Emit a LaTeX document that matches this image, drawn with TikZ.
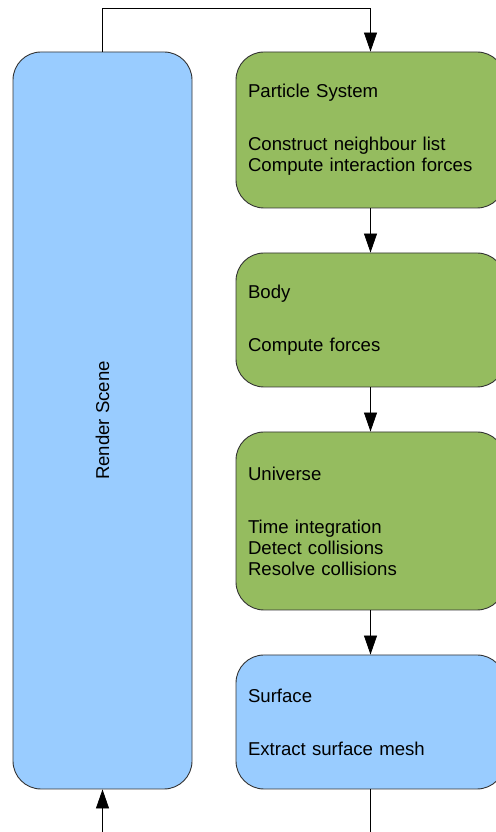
\documentclass[tikz,border=0pt]{standalone}
\usepackage{fontspec}
\setmainfont{Liberation Sans}
\usetikzlibrary{arrows.meta}
\definecolor{stageblue}{HTML}{99CCFF}
\definecolor{stagegreen}{HTML}{95BC5F}
\begin{document}
\begin{tikzpicture}[x=1pt,y=1pt,
  stagebox/.style={draw=black!80,line width=0.9pt,rounded corners=28pt,
    text width=245pt,align=left,inner xsep=12pt,inner ysep=0pt,
    font=\fontsize{18.6}{21}\selectfont},
  arr/.style={line width=0.8pt,-{Triangle[width=13pt,length=19pt]}}]
\useasboundingbox (0,0) rectangle (495,832);
\node[stagebox,fill=stageblue,text width=155pt,minimum height=737pt,
  label={[rotate=90,font=\fontsize{18.6}{21}\selectfont]center:Render Scene}]
  (render) at (102.5,411.5) {};
\node[stagebox,fill=stagegreen,minimum height=156pt] (particle) at (370.5,702)
  {Particle System\\[32pt]Construct neighbour list\\Compute interaction forces};
\node[stagebox,fill=stagegreen,minimum height=134pt] (body) at (370.5,512)
  {Body\\[32pt]Compute forces};
\node[stagebox,fill=stagegreen,minimum height=178pt] (universe) at (370.5,311)
  {Universe\\[32pt]Time integration\\Detect collisions\\Resolve collisions};
\node[stagebox,fill=stageblue,minimum height=134pt] (surface) at (370.5,110)
  {Surface\\[32pt]Extract surface mesh};
\coordinate (loop) at (render.north |- 0,824);
\coordinate (entry) at (render.south |- 0,-10);
\draw[arr] (render.north) -- (loop) -| (particle.north);
\draw[arr] (particle) -- (body);
\draw[arr] (body) -- (universe);
\draw[arr] (universe) -- (surface);
\draw[line width=0.8pt] (surface.south) -- (surface.south |- entry);
\draw[arr] (entry) -- (render.south);
\end{tikzpicture}
\end{document}
